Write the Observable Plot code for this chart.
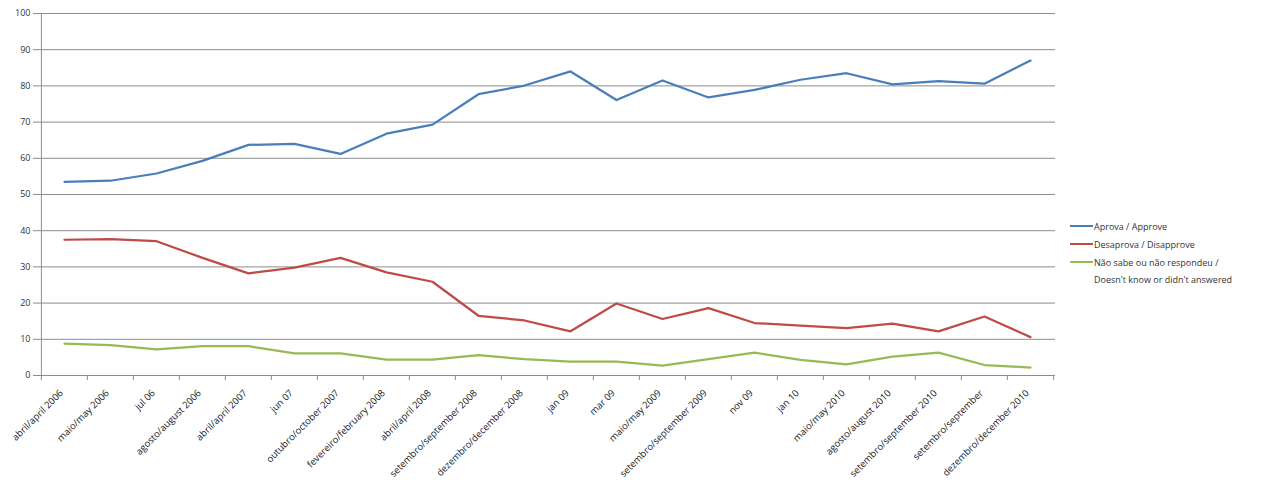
<!DOCTYPE html>
<html>
<head>
<meta charset="utf-8">
<script src="https://cdn.jsdelivr.net/npm/d3@7"></script>
<script src="https://cdn.jsdelivr.net/npm/@observablehq/plot@0.6"></script>
<style>
  body { margin: 0; background: #fff; }
  #wrap { position: relative; width: 1280px; height: 492px; }
  .legend { position: absolute; left: 1070px; top: 218px; font-family: "Open Sans", sans-serif; font-size: 9px; color: #333; }
  .item { position: relative; height: 18px; }
  .swatch { position: absolute; left: 0; top: 7px; width: 23px; height: 2px; }
  .lbl { position: absolute; left: 24px; top: 0; white-space: nowrap; line-height: 17px; }
</style>
</head>
<body>
<div id="wrap"></div>
<script>
const categories = [
  "abril/april 2006", "maio/may 2006", "jul 06", "agosto/august 2006", "abril/april 2007",
  "jun 07", "outubro/october 2007", "fevereiro/february 2008", "abril/april 2008",
  "setembro/september 2008", "dezembro/december 2008", "jan 09", "mar 09", "maio/may 2009",
  "setembro/september 2009", "nov 09", "jan 10", "maio/may 2010", "agosto/august 2010",
  "setembro/september 2010", "setembro/september", "dezembro/december 2010"
];
const approve    = [53.5, 53.8, 55.8, 59.3, 63.7, 64.0, 61.2, 66.8, 69.3, 77.7, 80.1, 84.0, 76.1, 81.5, 76.8, 78.9, 81.7, 83.5, 80.4, 81.3, 80.6, 87.0];
const disapprove = [37.5, 37.7, 37.1, 32.5, 28.2, 29.8, 32.5, 28.5, 25.9, 16.5, 15.2, 12.2, 19.9, 15.6, 18.6, 14.5, 13.8, 13.1, 14.3, 12.2, 16.3, 10.6];
const dontKnow   = [8.8, 8.4, 7.2, 8.1, 8.1, 6.1, 6.1, 4.4, 4.4, 5.6, 4.5, 3.8, 3.8, 2.7, 4.5, 6.3, 4.3, 3.1, 5.2, 6.3, 2.9, 2.2];
const seriesNames = ["Aprova / Approve", "Desaprova / Disapprove", "Não sabe ou não respondeu / Doesn't know or didn't answered"];
const seriesColors = ["#4A7EBB", "#BE4B48", "#98B954"];
const yTicks = [0, 10, 20, 30, 40, 50, 60, 70, 80, 90, 100];

const seriesValues = [approve, disapprove, dontKnow];
const rows = [];
seriesValues.forEach((vals, s) => {
  categories.forEach((c, i) => rows.push({cat: c, value: vals[i], series: seriesNames[s]}));
});

const W = 1280, H = 492, mL = 38, mR = 225, mT = 13, mB = 117;
const step = (W - mL - mR) / categories.length;
const grid = "#8c8c8c";

const chart = Plot.plot({
  width: W, height: H,
  marginLeft: mL, marginRight: mR, marginTop: mT, marginBottom: mB,
  style: {fontFamily: "Open Sans, sans-serif", fontSize: "9px", color: "#333", background: "#fff"},
  x: {type: "point", domain: categories, padding: 0.5, label: null},
  y: {domain: [0, 100], label: null},
  color: {domain: seriesNames, range: seriesColors},
  marks: [
    Plot.ruleY(yTicks, {y: d => d, stroke: grid, strokeWidth: 1}),
    Plot.ruleX([categories[0]], {x: d => d, dx: -step / 2, y1: 0, y2: 100, stroke: grid}),
    Plot.ruleX(categories, {x: d => d, dx: -step / 2, y1: 0, y2: -1.4, stroke: grid}),
    Plot.ruleX([categories[categories.length - 1]], {x: d => d, dx: step / 2, y1: 0, y2: -1.4, stroke: grid}),
    Plot.axisY({ticks: yTicks, tickSize: 5, tickPadding: 3, stroke: grid, fill: "#333", label: null}),
    Plot.axisX({tickRotate: -45, tickSize: 0, tickPadding: 13, dx: -3, dy: 3, fontSize: 9.5, fill: "#222", label: null}),
    Plot.line(rows, {x: "cat", y: "value", z: "series", stroke: "series", strokeWidth: 2.25, strokeLinejoin: "round"})
  ]
});

const wrap = document.getElementById("wrap");
wrap.appendChild(chart);

const legend = document.createElement("div");
legend.className = "legend";
const legendLines = [
  [seriesNames[0]],
  [seriesNames[1]],
  ["Não sabe ou não respondeu /", "Doesn't know or didn't answered"]
];
legendLines.forEach((lines, i) => {
  const item = document.createElement("div");
  item.className = "item";
  const sw = document.createElement("div");
  sw.className = "swatch";
  sw.style.background = seriesColors[i];
  item.appendChild(sw);
  lines.forEach((t, j) => {
    const l = document.createElement("div");
    l.className = "lbl";
    l.style.top = (j * 17) + "px";
    l.textContent = t;
    item.appendChild(l);
  });
  legend.appendChild(item);
});
wrap.appendChild(legend);
</script>
</body>
</html>
